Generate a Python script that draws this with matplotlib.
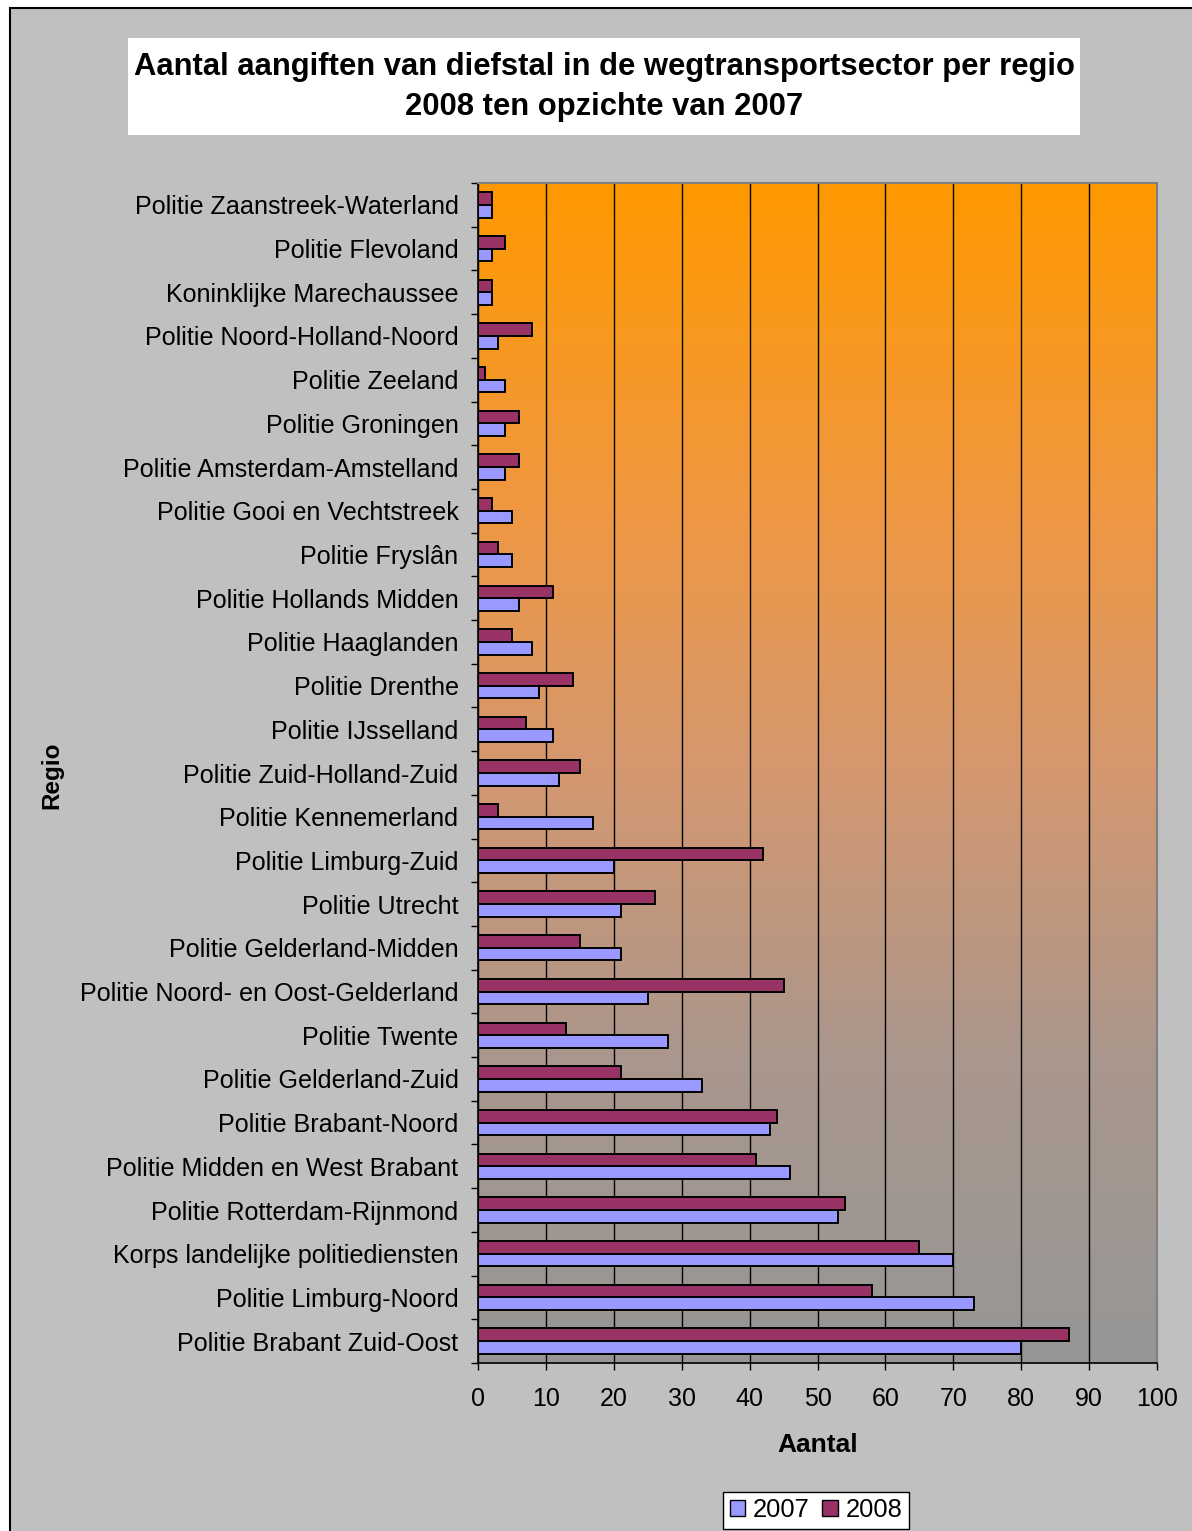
import matplotlib
matplotlib.use("Agg")
import matplotlib.pyplot as plt
import numpy as np
from matplotlib.patches import Rectangle, Patch
from matplotlib.colors import LinearSegmentedColormap

plt.rcParams['font.family'] = ['Liberation Sans', 'DejaVu Sans']

regions = [
    "Politie Zaanstreek-Waterland", "Politie Flevoland", "Koninklijke Marechaussee",
    "Politie Noord-Holland-Noord", "Politie Zeeland", "Politie Groningen",
    "Politie Amsterdam-Amstelland", "Politie Gooi en Vechtstreek", "Politie Fryslân",
    "Politie Hollands Midden", "Politie Haaglanden", "Politie Drenthe",
    "Politie IJsselland", "Politie Zuid-Holland-Zuid", "Politie Kennemerland",
    "Politie Limburg-Zuid", "Politie Utrecht", "Politie Gelderland-Midden",
    "Politie Noord- en Oost-Gelderland", "Politie Twente", "Politie Gelderland-Zuid",
    "Politie Brabant-Noord", "Politie Midden en West Brabant", "Politie Rotterdam-Rijnmond",
    "Korps landelijke politiediensten", "Politie Limburg-Noord", "Politie Brabant Zuid-Oost",
]
values_2007 = [2, 2, 2, 3, 4, 4, 4, 5, 5, 6, 8, 9, 11, 12, 17, 20, 21, 21, 25, 28, 33, 43, 46, 53, 70, 73, 80]
values_2008 = [2, 4, 2, 8, 1, 6, 6, 2, 3, 11, 5, 14, 7, 15, 3, 42, 26, 15, 45, 13, 21, 44, 41, 54, 65, 58, 87]
x_ticks = [0, 10, 20, 30, 40, 50, 60, 70, 80, 90, 100]

W, H = 1192, 1531
fig = plt.figure(figsize=(W / 100, H / 100), dpi=100)
fig.patch.set_facecolor('white')

# outer chart area
fig.patches.append(Rectangle((10 / W, -0.05), 1.1, 1 - 8 / H + 0.05, transform=fig.transFigure,
                             facecolor='#C0C0C0', edgecolor='black', lw=1.5, zorder=-10))
# title box
fig.patches.append(Rectangle((128 / W, 1 - 135 / H), (1080 - 128) / W, (135 - 38) / H,
                             transform=fig.transFigure, facecolor='white', edgecolor='none', zorder=-5))
fig.text(604 / W, 1 - 67 / H, "Aantal aangiften van diefstal in de wegtransportsector per regio",
         ha='center', va='center', fontsize=22.3, fontweight='bold')
fig.text(604 / W, 1 - 107 / H, "2008 ten opzichte van 2007",
         ha='center', va='center', fontsize=22.3, fontweight='bold')

ax = fig.add_axes([478 / W, 1 - 1363 / H, (1157 - 478) / W, (1363 - 183) / H])
ax.set_zorder(1)
n = len(regions)

# gradient background
cmap = LinearSegmentedColormap.from_list('bg', [
    (0.0, (255 / 255, 153 / 255, 0 / 255)),
    (0.27, (240 / 255, 151 / 255, 65 / 255)),
    (0.5, (212 / 255, 152 / 255, 112 / 255)),
    (0.74, (170 / 255, 150 / 255, 140 / 255)),
    (1.0, (150 / 255, 150 / 255, 150 / 255)),
])
grad = np.linspace(0, 1, 256).reshape(-1, 1)
ax.imshow(grad, cmap=cmap, aspect='auto', extent=(0, 100, n - 0.5, -0.5), zorder=0)
ax.set_xlim(0, 100)
ax.set_ylim(n - 0.5, -0.5)

y = np.arange(n)
h = 0.29
ax.barh(y - h / 2, values_2008, height=h, color='#993366', edgecolor='black', lw=1.4, zorder=3, label='2008')
ax.barh(y + h / 2, values_2007, height=h, color='#9999FF', edgecolor='black', lw=1.4, zorder=3, label='2007')

ax.set_xticks(x_ticks)
ax.set_xticklabels([str(t) for t in x_ticks])
ax.grid(axis='x', color='black', lw=1)
for gl in ax.get_xgridlines():
    gl.set_zorder(1)

ax.set_yticks(y)
ax.set_yticklabels(regions)
ax.set_yticks(np.arange(n + 1) - 0.5, minor=True)
ax.tick_params(axis='y', which='major', length=0, pad=14, labelsize=18.1)
ax.tick_params(axis='y', which='minor', length=5, width=1, direction='out')
ax.tick_params(axis='x', length=5, width=1, direction='out', pad=12, labelsize=18)

for s in ['top', 'right']:
    ax.spines[s].set_color('#808080')
    ax.spines[s].set_linewidth(1.5)
for s in ['left', 'bottom']:
    ax.spines[s].set_color('black')
    ax.spines[s].set_linewidth(1.2)

ax.set_xlabel("Aantal", fontsize=19, fontweight='bold', labelpad=16)
fig.text(52 / W, 1 - 775 / H, "Regio", rotation=90, ha='center', va='center',
         fontsize=17.5, fontweight='bold')

handles = [Patch(facecolor='#9999FF', edgecolor='black', label='2007'),
           Patch(facecolor='#993366', edgecolor='black', label='2008')]
leg = fig.legend(handles=handles, loc='upper center', bbox_to_anchor=(816 / W, 1 - 1492 / H),
                 ncol=2, fontsize=18.4, frameon=True, fancybox=False, handlelength=0.6,
                 handleheight=0.6, handletextpad=0.3, columnspacing=0.5, borderpad=0.25,
                 borderaxespad=0)
leg.get_frame().set_edgecolor('black')
leg.get_frame().set_linewidth(1)
leg.get_frame().set_alpha(1)

fig.savefig('out.png', dpi=100)
